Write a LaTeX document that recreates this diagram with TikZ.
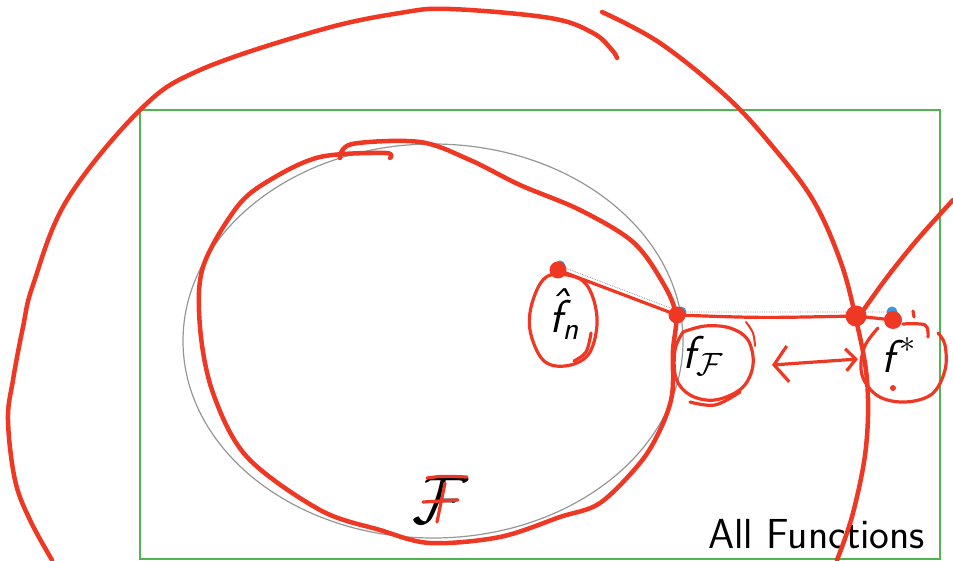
\documentclass[tikz,border=0pt]{standalone}
\usepackage{fix-cm}
\usepackage{amsmath}
\usepackage[no-math]{fontspec}
\usetikzlibrary{arrows.meta}
\definecolor{InkRed}{RGB}{238,56,36}
\definecolor{BoxGreen}{RGB}{80,180,80}
\definecolor{SetGray}{RGB}{150,150,150}
\definecolor{PtBlue}{RGB}{60,150,215}
\newcommand{\sfit}[1]{\textsf{\itshape #1}}

\begin{document}
\begin{tikzpicture}[x=1pt, y=-1pt,
    ink/.style={draw=InkRed, line width=4.5pt, line cap=round, line join=round},
    thinink/.style={ink, line width=3.2pt},
    blob/.style={circle, fill=InkRed, inner sep=0pt, minimum size=#1},
    pt/.style={circle, fill=PtBlue, inner sep=0pt, minimum size=11pt},
    lbl/.style={inner sep=0pt, font=\fontsize{46}{52}\selectfont}
  ]
  \useasboundingbox (0,0) rectangle (953,561);

  % all functions and the class F
  \draw[BoxGreen, line width=1.3pt] (140,110) rectangle (940,559);
  \draw[SetGray, line width=1.2pt] (433,341) ellipse [x radius=250, y radius=197];
  \node[anchor=base east, inner sep=0pt, font=\fontsize{42}{48}\selectfont\sffamily]
    (allf) at (925,548) {All Functions};
  \node[lbl, font=\fontsize{68}{72}\selectfont] (calF) at (440,500) {$\mathcal{F}$};

  % the three functions
  \node[pt] (pn)    at (560,266) {};
  \node[pt] (pF)    at (681,312) {};
  \node[pt] (pstar) at (892,312) {};
  \draw[SetGray, densely dotted, line width=0.8pt] (pn.center) -- (pF.center) -- (pstar.center);

  \node[lbl] (fn)    at (564,314) {$\sfit{\accent"02C6 f}_{\sfit{n}}$};
  \node[lbl] (fF)    at (703,356) {$\sfit{f}_{\mathcal{F}}$};
  \node[lbl] (fstar) at (899,355) {$\sfit{f}^{\,*}$};

  % ink on top
  \draw[ink] plot[smooth, tension=0.6] coordinates {(52,560) (30,520) (15,480) (8,420)
    (13,380) (23,327) (33,285) (67,200) (140,110) (200,70) (320,30) (400,13) (450,9)
    (550,18) (593,33) (612,50) (617,58)};
  \draw[ink] plot[smooth, tension=0.6] coordinates {(602,12) (660,43) (727,97) (773,147)
    (813,200) (840,260) (855,315) (867,380) (866,447) (853,513) (837,560)};
  \draw[ink] plot[smooth, tension=0.6] coordinates {(953,200) (917,240) (885,280) (858,318)};
  \draw[ink] plot[smooth, tension=0.55] coordinates {(340,158) (352,144) (420,142)
    (470,160) (520,185) (580,210) (633,242) (663,283) (676,315) (673,350) (672,395)
    (660,430) (640,463) (600,503) (560,517) (500,537) (430,543) (380,530) (320,510)
    (247,457) (213,393) (200,327) (203,267) (237,207) (270,180) (320,157) (385,153)
    (390,158)};

  \node[blob=17pt] (rn)    at (558,270) {};
  \node[blob=17pt] (rF)    at (677,315) {};
  \node[blob=21pt] (rX)    at (856,316) {};
  \node[blob=18pt] (rstar) at (893,320) {};
  \draw[thinink] (rn.center) -- (rF.center);
  \draw[thinink] (rF.center) .. controls (760,318) .. (rX.center);
  \draw[thinink] (rX.center) -- (rstar.center);

  % circles round the labels
  \draw[thinink] plot[smooth cycle, tension=0.6] coordinates {(548,276) (533,300)
    (530,330) (543,360) (565,366) (588,355) (597,325) (592,295) (578,278)};
  \draw[thinink] plot[smooth, tension=0.6] coordinates {(591,333) (586,352) (574,361)};
  \draw[thinink] plot[smooth, tension=0.6] coordinates {(683,332) (705,326) (730,328)
    (748,340) (753,365) (742,388) (715,400) (690,395) (676,378) (675,350) (683,332)};
  \draw[thinink] plot[smooth, tension=0.6] coordinates {(740,392) (715,405) (690,402)};
  \draw[thinink, line width=2pt] plot[smooth, tension=0.6] coordinates {(746,322) (753,333) (755,346)};
  \draw[thinink] plot[smooth, tension=0.6] coordinates {(878,328) (864,348) (862,375)
    (878,396) (905,402) (932,394) (945,370) (945,345) (938,333)};
  \draw[thinink] plot[smooth, tension=0.6] coordinates {(903,324) (925,325) (928,337)};
  \fill[InkRed] (893,388) circle (3);
  \draw[thinink] (913,311) -- (914,317);

  % distance between fF and f*
  \coordinate (gapL) at (772,365);
  \coordinate (gapR) at (858,359);
  \draw[thinink, {Straight Barb[length=14pt, width=36pt]}-{Straight Barb[length=10pt, width=22pt]}]
    (gapL) -- (gapR);

  % red F over the calligraphic F
  \draw[thinink] (calF.center) ++(-13,-22) .. controls ++(15,-2) .. ++(40,-1);
  \draw[thinink] (calF.center) ++(5,-17) -- ++(-8,39);
  \draw[thinink] (calF.center) ++(-17,2) -- ++(35,-2);
\end{tikzpicture}
\end{document}
